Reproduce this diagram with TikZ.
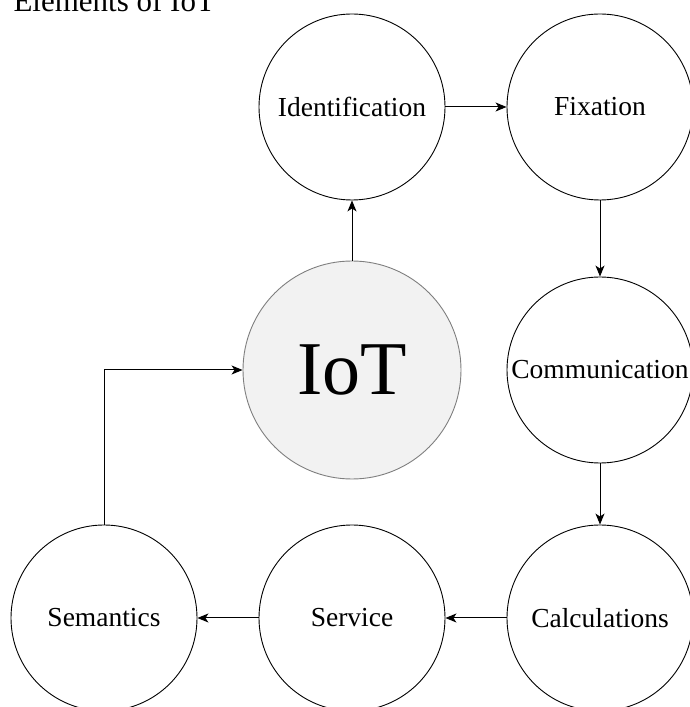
\documentclass[tikz,border=0pt]{standalone}
\usepackage{fontspec}
\setmainfont{Liberation Serif}
\usepackage{xcolor}
\usetikzlibrary{positioning, arrows.meta}
\usetikzlibrary{shapes,shapes.geometric}
\definecolor{corefill}{HTML}{F2F2F2}
\definecolor{coreline}{HTML}{7F7F7F}

\begin{document}
\begin{tikzpicture}[x=1pt, y=1pt, node distance=248pt,
	elem/.style={circle, draw=black, line width=0.9pt, minimum size=186pt, inner sep=0pt,
		font=\fontsize{27.5}{32}\selectfont},
	core/.style={circle, draw=coreline, line width=0.9pt, fill=corefill, minimum size=218pt, inner sep=0pt,
		font=\fontsize{76}{80}\selectfont},
	link/.style={-{Stealth[length=11pt, width=9pt, inset=3pt]}, line width=1pt}]
		\useasboundingbox (0,0) rectangle (690,707);
		\node[anchor=base west, font=\fontsize{31}{36}\selectfont] (title) at (10,695) {Elements of IoT};
		
		\node[elem] (ident) at (352,600) {Identification};
		\node[elem, right of = ident] (fix) {Fixation};
		\node[elem, below of = fix, node distance=263pt] (com) {Communication};
		\node[elem, below of = com] (calc) {Calculations};
		\node[elem, left of = calc] (serv) {Service};
		\node[elem, left of = serv] (sem) {Semantics};
		\node[core, below of = ident, node distance=263pt] (iot) {IoT};
		
		
		\draw[link] (iot) -- (ident);
		\draw[link] (ident) -- (fix);
		\draw[link] (fix) -- (com);
		\draw[link] (com) -- (calc);
		\draw[link] (calc) -- (serv);
		\draw[link] (serv) -- (sem);
		\draw[link] (sem.north) |- (iot.west);
		
		\end{tikzpicture}
\end{document}
